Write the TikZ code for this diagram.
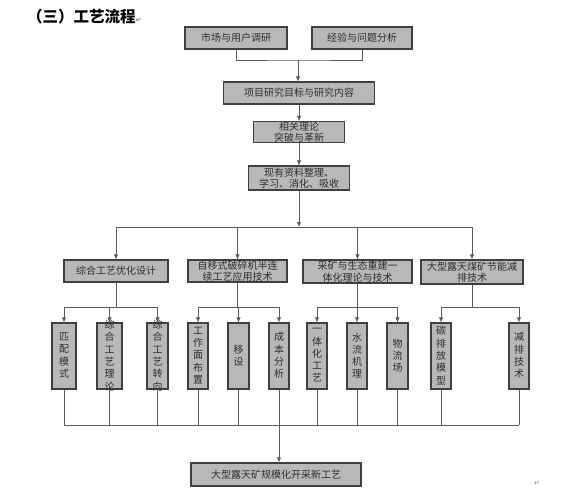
\documentclass[tikz,border=0pt]{standalone}
\usepackage{fontspec}
\newfontfamily\cjk{Noto Sans CJK SC}
\newfontfamily\symfont{DejaVu Sans}
\usetikzlibrary{arrows.meta}

\definecolor{boxgray}{RGB}{184,184,184}
\definecolor{edgegray}{RGB}{64,64,64}
\definecolor{linegray}{RGB}{90,90,90}
\definecolor{textgray}{RGB}{45,45,45}

\newcommand\colstack[1]{\smash{\raisebox{-2pt}{\parbox[c]{1.2em}{\centering\fontsize{10}{12.3}\selectfont #1}}}}
\newcommand\retmark{{\symfont\fontsize{7}{7}\selectfont\color{gray}↵}}

\tikzset{
  plainbox/.style={draw=edgegray, fill=boxgray, line width=1.1pt, inner sep=0pt,
    text=textgray, font=\cjk\fontsize{10}{11.5}\selectfont},
  flowbox/.style={plainbox, align=center},
  colbox/.style={plainbox, minimum height=66pt},
  wire/.style={draw=linegray, line width=0.8pt},
  arr/.style={wire, -{Latex[length=5pt,width=4.5pt]}}
}

\begin{document}
\begin{tikzpicture}[x=1pt, y=-1pt]
  \useasboundingbox (0,0) rectangle (578,498);

  % Titel
  \node[anchor=west, inner sep=0pt, font=\cjk\bfseries\fontsize{15.5}{16}\selectfont] (title) at (27,17) {（三）工艺流程\retmark};

  % obere Kette
  \node[flowbox, minimum width=102pt, minimum height=22pt] (market) at (236,38) {市场与用户调研};
  \node[flowbox, minimum width=100pt, minimum height=22pt] (experience) at (362,38) {经验与问题分析};
  \node[flowbox, minimum width=151pt, minimum height=22pt] (goal) at (299,93) {项目研究目标与研究内容};
  \node[flowbox, minimum width=91pt, minimum height=21pt] (theory) at (299,132) {相关理论\\突破与革新};
  \node[flowbox, minimum width=101pt, minimum height=24pt] (data) at (299,178) {现有资料整理、\\学习、消化、吸收};

  % zweite Ebene
  \node[flowbox, minimum width=104pt, minimum height=22pt] (optim) at (116,271) {综合工艺优化设计};
  \node[flowbox, minimum width=99pt, minimum height=22pt] (crusher) at (237.5,271) {自移式破碎机半连\\续工艺应用技术};
  \node[flowbox, minimum width=109pt, minimum height=23pt] (ecology) at (357.5,271.5) {采矿与生态重建一\\体化理论与技术};
  \node[flowbox, minimum width=102pt, minimum height=24pt] (energy) at (472,272) {大型露天煤矿节能减\\排技术};

  % dritte Ebene (senkrechte Schrift)
  \foreach \n/\px/\w/\t in {match/64/24/{匹\\配\\模\\式}, synth/109.5/25/{综\\合\\工\\艺\\理\\论},
      turn/157.5/21/{综\\合\\工\\艺\\转\\向}, face/198/20/{工\\作\\面\\布\\置},
      move/238.5/21/{移\\设}, cost/279/20/{成\\本\\分\\析},
      integ/317/20/{一\\体\\化\\工\\艺}, water/357/20/{水\\流\\机\\理},
      logis/397.5/21/{物\\流\\场}, carbon/441/20/{碳\\排\\放\\模\\型},
      reduce/519/20/{减\\排\\技\\术}}
    \node[colbox, minimum width=\w pt] (\n) at (\px,356) {\colstack{\t}};

  % Ergebnis
  \node[flowbox, minimum width=170pt, minimum height=23pt] (final) at (276,474.5) {大型露天矿规模化开采新工艺};
  \node[inner sep=0pt] (endmark) at (537,483) {\retmark};

  % Verbindungen oben
  \coordinate (join) at (298,60);
  \draw[wire] (market.south) |- (join) -| (experience.south);
  \draw[arr] (join) -- (join |- goal.north);
  \draw[arr] (goal) -- (theory);
  \draw[arr] (theory) -- (data);

  % Verteilung auf zweite Ebene
  \coordinate (split) at (298,227);
  \draw[arr] (data) -- (data |- split);
  \draw[wire] (optim.north |- split) -- (energy.north |- split);
  \foreach \n in {optim,crusher,ecology,energy}
    \draw[arr] (\n.north |- split) -- (\n.north);

  % Verteilung auf dritte Ebene
  \coordinate (fork) at (0,307);
  \foreach \p/\c in {optim/match, optim/synth, optim/turn, crusher/face, crusher/move, crusher/cost,
      ecology/integ, ecology/water, ecology/logis, energy/carbon, energy/reduce}
    \draw[arr] (\p.south) -- (\p.south |- fork) -| (\c.north);

  % Sammelleitung unten
  \coordinate (merge) at (0,425);
  \foreach \c in {match,synth,turn,face,move,cost,integ,water,logis,carbon,reduce}
    \draw[wire] (\c.south) -- (\c.south |- merge);
  \draw[wire] (match.south |- merge) -- (reduce.south |- merge);
  \draw[arr] (cost.south |- merge) -- (final.north -| cost.south);

\end{tikzpicture}
\end{document}
